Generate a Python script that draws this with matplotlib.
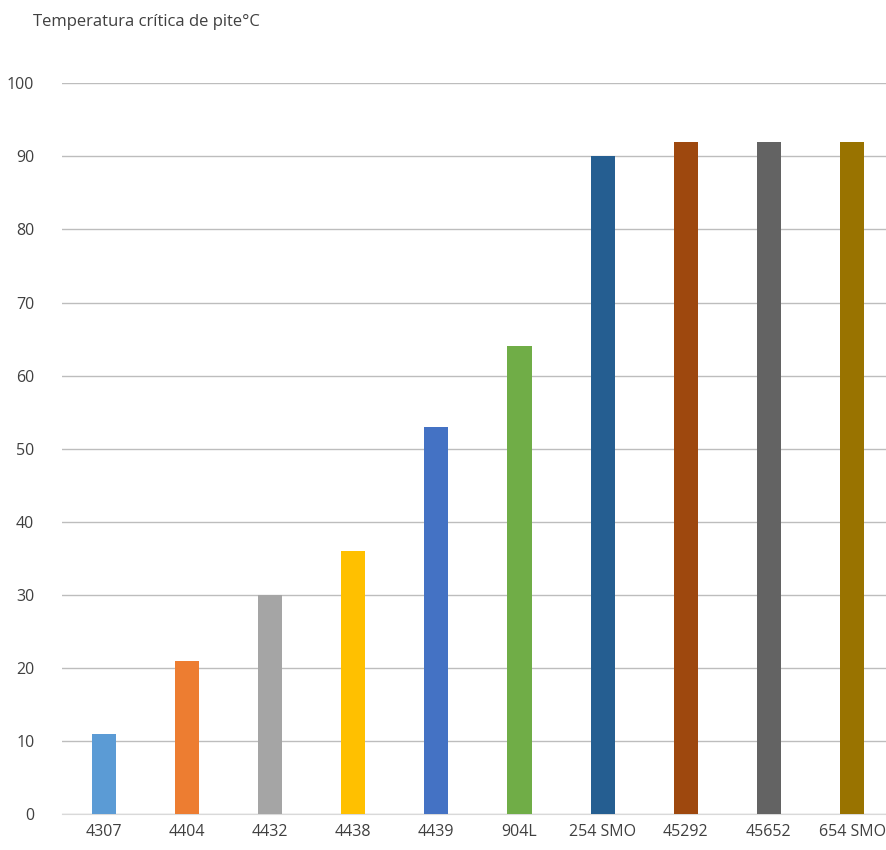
import matplotlib.pyplot as plt
import numpy as np

plt.rcParams['font.family'] = ['Open Sans', 'DejaVu Sans']

# aços e temperatura crítica de pite
ligas = ['4307', '4404', '4432', '4438', '4439', '904L', '254 SMO', '45292', '45652', '654 SMO']
temperaturas = [11, 21, 30, 36, 53, 64, 90, 92, 92, 92]
cores = ['#5B9BD5', '#ED7D31', '#A5A5A5', '#FFC000', '#4472C4',
         '#70AD47', '#255E91', '#9E480E', '#636363', '#997300']

fig = plt.figure(figsize=(8.87, 8.5), dpi=100)
ax = fig.add_axes([0.07, 0.042, 0.93, 0.860])

x = np.arange(len(ligas))
ax.bar(x, temperaturas, width=0.29, color=cores, zorder=3)

ax.set_xlim(-0.5, 9.42)
ax.set_ylim(0, 100)
ax.set_yticks(np.arange(0, 101, 10))
ax.set_xticks(x)
ax.set_xticklabels(ligas)
ax.grid(axis='y', color='#BDBDBD', linewidth=1.0, zorder=0)
ax.tick_params(length=0, labelsize=11.5, colors='#404040', pad=7)
ax.tick_params(axis='y', pad=20)
for lado in ['top', 'right', 'left']:
    ax.spines[lado].set_visible(False)
ax.spines['bottom'].set_color('#D9D9D9')

fig.text(0.037, 0.974, 'Temperatura crítica de pite°C', fontsize=12,
         color='#404040', va='center', ha='left')

fig.savefig('out.png', dpi=100)
